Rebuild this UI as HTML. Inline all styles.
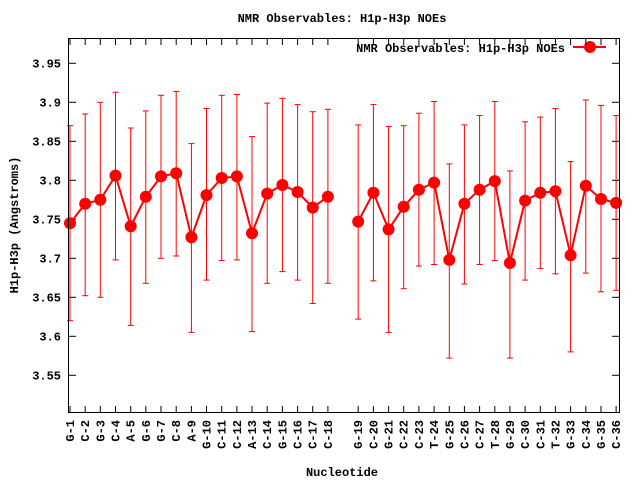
<!DOCTYPE html>
<html><head><meta charset="utf-8"><style>
html,body{margin:0;padding:0;background:#fff;width:640px;height:480px;overflow:hidden}
svg text{font-family:"Liberation Mono","DejaVu Sans Mono",monospace;font-weight:bold;font-size:12px;fill:#000}
</style></head><body>
<svg id="s" width="640" height="480" xmlns="http://www.w3.org/2000/svg">
<text x="342" y="22" text-anchor="middle">NMR Observables: H1p-H3p NOEs</text>
<text x="342" y="476" text-anchor="middle">Nucleotide</text>
<text transform="translate(18,225) rotate(-90)" text-anchor="middle">H1p-H3p (Angstroms)</text>
<text x="565" y="52" text-anchor="end">NMR Observables: H1p-H3p NOEs</text>
<line x1="573" y1="47" x2="606" y2="47" stroke="#f00" stroke-width="2"/>
<circle cx="590" cy="47" r="6" fill="#f00"/>
<g id="g"></g>
<rect x="68.5" y="38.5" width="551" height="374" fill="none" stroke="#000" stroke-width="1"/>
</svg>
<script>
var names="G-1 C-2 G-3 C-4 A-5 G-6 G-7 C-8 A-9 G-10 C-11 C-12 A-13 C-14 G-15 C-16 C-17 C-18 G-19 C-20 G-21 C-22 C-23 T-24 G-25 C-26 C-27 T-28 G-29 C-30 C-31 T-32 G-33 C-34 G-35 C-36".split(" ");
var d=[[3.745,3.62,3.87],[3.77,3.652,3.885],[3.775,3.65,3.9],[3.806,3.698,3.913],[3.741,3.614,3.867],[3.779,3.668,3.889],[3.805,3.70,3.909],[3.809,3.703,3.914],[3.727,3.605,3.847],[3.781,3.672,3.892],[3.803,3.697,3.909],[3.805,3.698,3.91],[3.732,3.606,3.856],[3.783,3.668,3.899],[3.794,3.683,3.905],[3.785,3.672,3.897],[3.765,3.642,3.888],[3.779,3.668,3.891],[3.747,3.622,3.871],[3.784,3.671,3.897],[3.737,3.605,3.869],[3.766,3.661,3.87],[3.788,3.69,3.886],[3.797,3.692,3.901],[3.698,3.572,3.821],[3.77,3.667,3.871],[3.788,3.692,3.883],[3.799,3.697,3.901],[3.694,3.572,3.812],[3.774,3.672,3.875],[3.784,3.687,3.881],[3.786,3.68,3.892],[3.704,3.58,3.824],[3.793,3.681,3.903],[3.776,3.657,3.896],[3.771,3.659,3.883]];
function Y(v){return 63.3+(3.95-v)*780;}
function X(i){return 70+(i<18?i:i+1)*15.17;}
var h="";
var yt=[3.55,3.6,3.65,3.7,3.75,3.8,3.85,3.9,3.95];
yt.forEach(function(v){var y=Y(v).toFixed(1);
h+='<line x1="69" y1="'+y+'" x2="76" y2="'+y+'" stroke="#000"/><line x1="612" y1="'+y+'" x2="619" y2="'+y+'" stroke="#000"/>';
h+='<text x="61" y="'+(+y+4)+'" text-anchor="end">'+(+v.toFixed(2))+'</text>';});
var pts=[[],[]];
d.forEach(function(p,i){var x=X(i).toFixed(1);
h+='<line x1="'+x+'" y1="412" x2="'+x+'" y2="406" stroke="#000"/><line x1="'+x+'" y1="39" x2="'+x+'" y2="45" stroke="#000"/>';
h+='<text transform="translate('+(+x+4)+',420) rotate(-90)" text-anchor="end">'+names[i]+'</text>';
var a=Y(p[1]).toFixed(1),b=Y(p[2]).toFixed(1);
h+='<line x1="'+x+'" y1="'+a+'" x2="'+x+'" y2="'+b+'" stroke="#f00"/>';
h+='<line x1="'+(x-3)+'" y1="'+a+'" x2="'+(+x+3)+'" y2="'+a+'" stroke="#f00"/>';
h+='<line x1="'+(x-3)+'" y1="'+b+'" x2="'+(+x+3)+'" y2="'+b+'" stroke="#f00"/>';
pts[i<18?0:1].push(x+','+Y(p[0]).toFixed(1));});
pts.forEach(function(p){h+='<polyline points="'+p.join(' ')+'" fill="none" stroke="#f00" stroke-width="2"/>';});
d.forEach(function(p,i){h+='<circle cx="'+X(i).toFixed(1)+'" cy="'+Y(p[0]).toFixed(1)+'" r="6" fill="#f00"/>';});
document.getElementById("g").innerHTML=h;
</script>
</body></html>
